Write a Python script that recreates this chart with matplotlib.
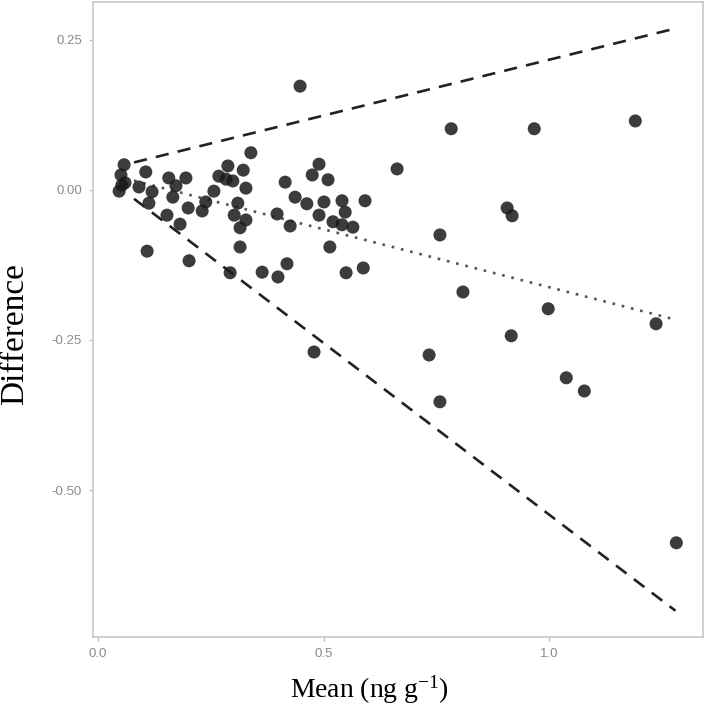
import numpy as np
import matplotlib
matplotlib.use('Agg')
import matplotlib.pyplot as plt

plt.rcParams['mathtext.fontset'] = 'custom'
plt.rcParams['mathtext.rm'] = 'Liberation Serif'
plt.rcParams['mathtext.it'] = 'Liberation Serif:italic'

# mean of the two methods (ng g-1) and their difference
mean_vals = [0.058, 0.051, 0.060, 0.047, 0.053, 0.106, 0.091, 0.120, 0.113, 0.157,
             0.195, 0.173, 0.166, 0.200, 0.231, 0.239, 0.153, 0.182, 0.109, 0.202,
             0.257, 0.288, 0.268, 0.284, 0.299, 0.322, 0.328, 0.310, 0.302, 0.328,
             0.315, 0.315, 0.293, 0.339, 0.364, 0.399, 0.419, 0.415, 0.437, 0.463,
             0.475, 0.490, 0.510, 0.501, 0.490, 0.521, 0.541, 0.548, 0.541, 0.565,
             0.592, 0.514, 0.550, 0.588, 0.397, 0.426, 0.448, 0.479, 0.663, 0.758,
             0.783, 0.809, 0.734, 0.758, 0.907, 0.918, 0.967, 1.191, 0.998, 0.916,
             1.038, 1.078, 1.237, 1.282]
diff_vals = [0.042, 0.025, 0.012, -0.002, 0.008, 0.030, 0.005, -0.003, -0.022, 0.020,
             0.020, 0.007, -0.012, -0.030, -0.035, -0.020, -0.042, -0.057, -0.102, -0.118,
             -0.002, 0.040, 0.023, 0.018, 0.015, 0.033, 0.003, -0.022, -0.042, -0.050,
             -0.063, -0.095, -0.138, 0.062, -0.137, -0.145, -0.123, 0.013, -0.012, -0.023,
             0.025, 0.043, 0.017, -0.020, -0.042, -0.053, -0.018, -0.037, -0.058, -0.062,
             -0.018, -0.095, -0.138, -0.130, -0.040, -0.060, 0.173, -0.270, 0.035, -0.075,
             0.102, -0.170, -0.275, -0.353, -0.030, -0.043, 0.102, 0.115, -0.198, -0.243,
             -0.313, -0.335, -0.223, -0.588]

# regression-based bias and limits of agreement
bias_coef = [0.031, -0.193]
loa_coef = [0.0, 0.379]
line_x = [0.08, 1.28]

xt = [0.0, 0.5, 1.0]
yt = [0.25, 0.00, -0.25, -0.50]

fig = plt.figure(figsize=(7.07, 7.09), dpi=100)
ax = fig.add_axes([0.1315, 0.1015, 0.8628, 0.8955])

lx = np.array(line_x)
bias = bias_coef[0] + bias_coef[1] * lx
half = loa_coef[0] + loa_coef[1] * lx

ax.plot(lx, bias + half, color='#222222', lw=1.9, ls=(0, (5, 3.5)))
ax.plot(lx, bias - half, color='#222222', lw=1.9, ls=(0, (5, 3.5)))
ax.plot(lx, bias, color='#555555', lw=1.9, ls=(0, (1, 2.6)))

ax.scatter(mean_vals, diff_vals, s=88, color='#1a1a1a', alpha=0.85,
           edgecolors='none', zorder=3)

ax.set_xlim(-0.011, 1.341)
ax.set_ylim(-0.745, 0.313)
ax.set_xticks(xt)
ax.set_xticklabels(['%.1f' % v for v in xt])
ax.set_yticks(yt)
ax.set_yticklabels(['%.2f' % v for v in yt])

for s in ax.spines.values():
    s.set_color('#c8c8c8')
    s.set_linewidth(1.2)
ax.tick_params(colors='#bdbdbd', labelcolor='#8a8a8a', labelsize=9.5,
               length=3, width=1, pad=5)
for lab in ax.get_xticklabels() + ax.get_yticklabels():
    lab.set_family('Liberation Sans')

ax.set_xlabel('$\\mathrm{Mean\\ (ng\\ g^{-1})}$', fontsize=20, va='center')
ax.xaxis.set_label_coords(0.454, -0.083)
ax.set_ylabel('Difference', family='Liberation Serif', fontsize=24, va='center')
ax.yaxis.set_label_coords(-0.128, 0.477)

fig.savefig('out.png', dpi=100)
